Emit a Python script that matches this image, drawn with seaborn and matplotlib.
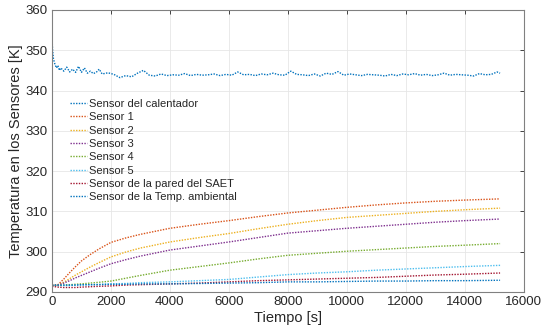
import numpy as np
import pandas as pd
import matplotlib
matplotlib.use("Agg")
import matplotlib.pyplot as plt
import seaborn as sns

# ---- data ----
heater_t = [0, 20, 50, 100, 150, 200, 250, 300, 400, 500, 600, 700, 800, 900, 1000,
            1100, 1200, 1300, 1400, 1500, 1600, 1700, 1900] + list(range(2100, 15200, 200)) + [15200]
heater_T = [353.0, 350.0, 347.8, 346.5, 345.6, 346.2, 345.0, 345.6, 344.8, 345.8,
            344.6, 345.3, 344.5, 346.0, 344.5, 345.6, 344.3, 344.8, 344.2, 344.5,
            345.3, 344.1, 344.4,
            # 2100 .. 15100 step 200
            344.0, 343.2, 343.7, 343.4, 344.3, 345.0, 343.8, 343.6, 344.1, 343.7,
            343.9, 343.8, 344.2, 343.7, 344.0, 343.8, 343.9, 344.1, 343.7, 344.0,
            343.8, 344.6, 343.9, 344.0, 343.7, 344.1, 343.9, 344.3, 343.9, 343.8,
            344.8, 344.0, 343.9, 343.7, 344.1, 343.6, 344.3, 344.0, 344.7, 343.8,
            344.1, 343.9, 343.7, 344.0, 343.9, 343.8, 343.6, 344.0, 343.7, 344.1,
            343.9, 344.2, 343.8, 344.0, 343.7, 343.9, 344.3, 343.8, 344.0, 343.9,
            343.8, 343.6, 344.2, 343.9, 344.0, 344.6,
            344.3]

t = [0, 200, 400, 600, 800, 1000, 1300, 1600, 2000, 2500, 3000, 4000, 5000, 6000,
     7000, 8000, 9000, 10000, 11000, 12000, 13000, 14000, 15200]
sensor1 = [291.6, 291.8, 293.2, 294.8, 296.3, 297.7, 299.3, 300.7, 302.3, 303.4, 304.3, 305.8,
           306.8, 307.7, 308.7, 309.6, 310.3, 311.0, 311.6, 312.1, 312.5, 312.8, 313.1]
sensor2 = [291.6, 291.7, 292.4, 293.3, 294.2, 295.0, 296.2, 297.3, 298.7, 299.9, 300.9, 302.4,
           303.5, 304.5, 305.7, 306.8, 307.7, 308.5, 309.0, 309.5, 310.0, 310.4, 310.8]
sensor3 = [291.6, 291.7, 292.2, 292.8, 293.5, 294.1, 295.0, 295.9, 297.0, 298.0, 298.9, 300.4,
           301.4, 302.4, 303.5, 304.6, 305.2, 305.8, 306.3, 306.8, 307.3, 307.7, 308.1]
sensor4 = [291.6, 291.6, 291.7, 291.8, 291.9, 292.0, 292.2, 292.4, 292.7, 293.4, 294.1, 295.4,
           296.3, 297.2, 298.2, 299.1, 299.6, 300.1, 300.5, 300.9, 301.3, 301.6, 302.0]
sensor5 = [291.6, 291.6, 291.6, 291.6, 291.7, 291.7, 291.8, 291.9, 292.0, 292.1, 292.3, 292.5,
           292.8, 293.1, 293.7, 294.3, 294.7, 295.0, 295.4, 295.7, 296.0, 296.3, 296.6]
saet    = [291.4, 291.2, 291.1, 291.1, 291.1, 291.2, 291.3, 291.4, 291.5, 291.7, 291.8, 292.0,
           292.2, 292.5, 292.8, 293.0, 293.2, 293.4, 293.6, 293.9, 294.2, 294.4, 294.7]
ambient = [291.7, 291.7, 291.7, 291.7, 291.7, 291.8, 291.8, 291.8, 291.9, 291.9, 292.0, 292.0,
           292.1, 292.2, 292.3, 292.5, 292.5, 292.6, 292.7, 292.7, 292.8, 292.8, 292.9]

labels = ["Sensor del calentador", "Sensor 1", "Sensor 2", "Sensor 3", "Sensor 4",
          "Sensor 5", "Sensor de la pared del SAET", "Sensor de la Temp. ambiental"]
colors = ["#0072BD", "#D95319", "#EDB120", "#7E2F8E", "#77AC30", "#4DBEEE",
          "#A2142F", "#0072BD"]

xticks = [0, 2000, 4000, 6000, 8000, 10000, 12000, 14000, 16000]
yticks = [290, 300, 310, 320, 330, 340, 350, 360]

# ---- plot ----
sns.set_theme(style="whitegrid")
plt.rcParams['font.family'] = ['Liberation Sans', 'DejaVu Sans']

fig = plt.figure(figsize=(5.44, 3.31), dpi=100)
ax = fig.add_axes([0.0956, 0.118, 0.867, 0.852])

n = min(len(heater_t), len(heater_T))
series = [(heater_t[:n], heater_T[:n])]
for s in [sensor1, sensor2, sensor3, sensor4, sensor5, saet, ambient]:
    m = min(len(t), len(s))
    series.append((t[:m], s[:m]))

for i, ((xs, ys), lab, c) in enumerate(zip(series, labels, colors)):
    df = pd.DataFrame({"t": xs, "T": ys})
    if i == 0:
        sns.lineplot(data=df, x="t", y="T", ax=ax, color=c, linewidth=1.8,
                     label=lab)
        ax.lines[-1].set_linestyle((0, (1, 0.5)))
    else:
        sns.lineplot(data=df, x="t", y="T", ax=ax, color=c, linewidth=1.1,
                     label=lab)
        ax.lines[-1].set_linestyle((0, (1, 1.1)))

ax.set_xlim(0, 16000)
ax.set_ylim(290, 360)
ax.set_xticks(xticks)
ax.set_yticks(yticks)
ax.set_xticklabels([str(v) for v in xticks])
ax.set_yticklabels([str(v) for v in yticks])
ax.tick_params(axis='both', labelsize=9.5, colors='#262626', direction='in',
               length=3, width=0.6, top=True, right=True, pad=3)
ax.grid(True, color='#e6e6e6', linewidth=0.6)
for sp in ax.spines.values():
    sp.set_visible(True)
    sp.set_color('#808080')
    sp.set_linewidth(0.8)
ax.set_facecolor('white')
ax.set_xlabel("Tiempo [s]", fontsize=10.5, color='#262626', labelpad=2)
ax.set_ylabel("Temperatura en los Sensores [K]", fontsize=10.5, color='#262626', labelpad=2)

handles, labs = ax.get_legend_handles_labels()
for h in handles:
    h.set_linestyle((0, (1, 1)))
    h.set_linewidth(1.0)
leg = ax.legend(handles, labs, loc='upper left', bbox_to_anchor=(0.028, 0.70), frameon=False,
                fontsize=8.0, handlelength=1.6, handletextpad=0.15,
                labelspacing=0.3, borderaxespad=0)

fig.savefig("out.png", dpi=100)
